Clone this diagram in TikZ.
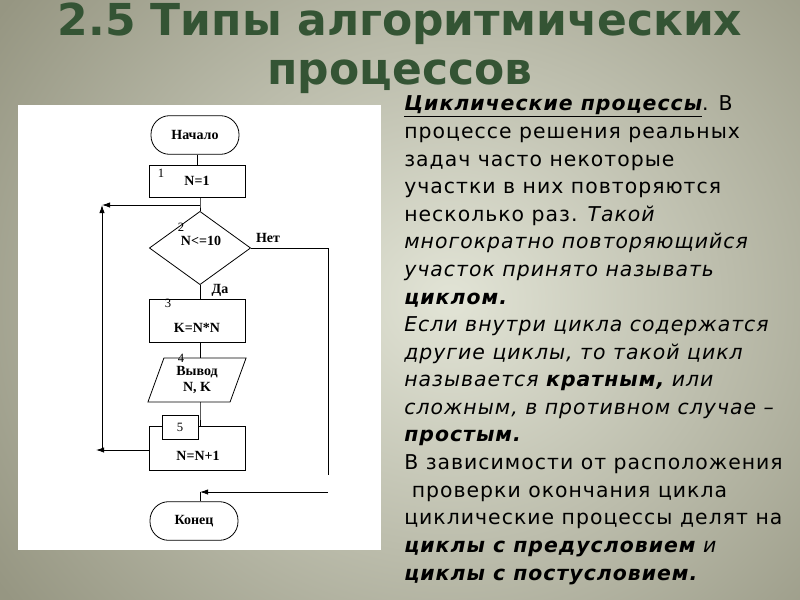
\documentclass[tikz,border=0pt]{standalone}
\usepackage{fontspec}
\setmainfont{DejaVu Sans}
\newfontfamily\ser{Liberation Serif}
\newfontfamily\body[LetterSpace=5]{DejaVu Sans}
\usetikzlibrary{shapes.geometric,arrows.meta}
\definecolor{bgout}{RGB}{150,150,130}
\definecolor{bgin}{RGB}{226,228,214}
\definecolor{ttl}{RGB}{52,84,52}
\tikzset{
 fc/.style={draw,line width=0.6pt,font=\ser\bfseries\fontsize{10.5}{11.5}\selectfont},
 term/.style={fc,rounded corners=14pt,minimum width=66pt,minimum height=29pt},
 proc/.style={fc,minimum width=72pt},
 lbl/.style={font=\ser\fontsize{9.5}{10}\selectfont,inner sep=0pt},
 ln/.style={line width=0.6pt},
 ar/.style={ln,-{Latex[length=6pt,width=4pt]}},
 tx/.style={anchor=base west,inner sep=0pt,font=\body\fontsize{15.3}{17}\selectfont}
}
\begin{document}
\begin{tikzpicture}[x=0.75pt,y=-0.75pt]
\useasboundingbox (0,0) rectangle (800,600);
\fill[bgout] (0,0) rectangle (800,600);
\shade[inner color=bgin,outer color=bgout] (-100,-200) rectangle (1000,800);
\node[font=\bfseries\fontsize{33}{37}\selectfont,text=ttl,align=center] (title) at (400,48) {2.5 Типы алгоритмических\\процессов};
\fill[white] (18,105) rectangle (381,550);
% flowchart
\node[term] (start) at (195,135) {Начало};
\node[proc,minimum height=24pt] (s1) at (197,181) {N=1};
\node[lbl] (n1) at (161,173) {1};
\node[fc,diamond,minimum width=76pt,minimum height=55pt,inner sep=0pt] (d) at (200,248) {};
\node[fc,draw=none] (dt) at (201,241) {N<=10};
\node[lbl] (n2) at (181,227) {2};
\node[fc,draw=none] (net) at (268,238) {Нет};
\node[fc,draw=none] (da) at (220,290) {Да};
\node[proc,minimum height=32pt] (s3) at (197,321) {};
\node[fc,draw=none] (s3t) at (197,328) {K=N*N};
\node[lbl] (n3) at (168,303) {3};
\node[fc,trapezium,trapezium left angle=70,trapezium right angle=110,minimum width=70pt,minimum height=33pt,align=center,inner sep=1pt] (io) at (197,380) {Вывод\\N, K};
\node[lbl] (n4) at (181,358) {4};
\node[proc,minimum height=33pt] (s5) at (197,448) {};
\node[fc,draw=none] (s5t) at (198,456) {N=N+1};
\node[draw,line width=0.6pt,minimum width=27pt,minimum height=18pt,fill=white,lbl,font=\ser\fontsize{9.5}{10}\selectfont] (n5) at (180,427) {5};
\node[term] (end) at (194,521) {Конец};
\coordinate (j1) at (200,205);
\coordinate (lt) at (102,205);
\coordinate (lb) at (102,450);
\coordinate (la) at (96,450);
\coordinate (r1) at (328,248);
\coordinate (r2) at (328,475);
\coordinate (r3) at (328,492);
\coordinate (j2) at (200,492);
\draw[ln] (start.south -| s1.north) -- (s1.north);
\draw[ln] (s1.south -| d.north) -- (j1) -- (d.north);
\draw[ar] (j1) -- (lt);
\draw[ar] (lb) -- (lt);
\draw[ar] (s5.west |- la) -- (la);
\draw[ln] (d.east) -- (r1) -- (r2);
\draw[ar] (r3) -- (j2);
\draw[ln] (j2) -- (end.north -| j2);
\draw[ln] (d.south) -- (d.south |- s3.north);
\draw[ln] (s3.south -| d.south) -- (io.north -| d.south);
\draw[ln] (io.south -| d.south) -- (n5.north -| d.south) -- (s5.north -| d.south);
% text
\node[tx] (t1) at (404,110) {{\bfseries\itshape\underline{Циклические процессы}}. В};
\node[tx] (t2) at (404,138) {процессе решения реальных};
\node[tx] (t3) at (404,166) {задач часто некоторые};
\node[tx] (t4) at (404,193) {участки в них повторяются};
\node[tx] (t5) at (404,221) {несколько раз. \itshape Такой};
\node[tx] (t6) at (404,248) {\itshape многократно повторяющийся};
\node[tx] (t7) at (404,276) {\itshape участок принято называть};
\node[tx] (t8) at (404,304) {\bfseries\itshape циклом.};
\node[tx] (t9) at (404,331) {\itshape Если внутри цикла содержатся};
\node[tx] (t10) at (404,359) {\itshape другие циклы, то такой цикл};
\node[tx] (t11) at (404,386) {\itshape называется \bfseries кратным,\mdseries\ или};
\node[tx] (t12) at (404,414) {\itshape сложным, в противном случае –};
\node[tx] (t13) at (404,441) {\bfseries\itshape простым.};
\node[tx] (t14) at (404,469) {В зависимости от расположения};
\node[tx] (t15) at (404,497) {\ проверки окончания цикла};
\node[tx] (t16) at (404,524) {циклические процессы делят на};
\node[tx] (t17) at (404,552) {\bfseries\itshape циклы с предусловием\mdseries\ и};
\node[tx] (t18) at (404,580) {\bfseries\itshape циклы с постусловием.};
\end{tikzpicture}
\end{document}
